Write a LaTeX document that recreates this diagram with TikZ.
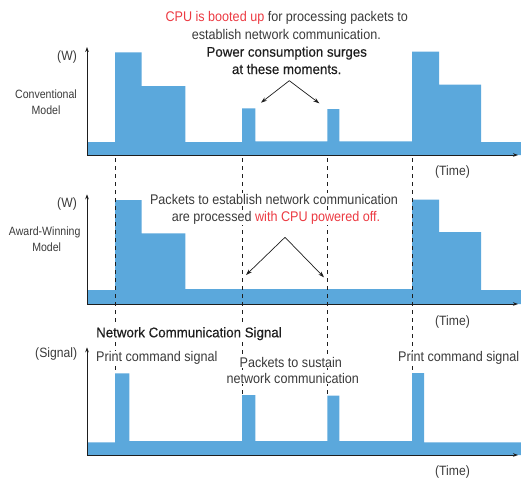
\documentclass[tikz,border=0pt]{standalone}
\usepackage{fontspec}
\setmainfont{Liberation Sans}[FakeStretch=0.9]
\newfontfamily\medfont{Liberation Sans}[FakeStretch=0.95,FakeBold=0.4]
\newfontfamily\smallfont{Liberation Sans}[FakeStretch=0.88]
\usetikzlibrary{arrows.meta}
\definecolor{barblue}{HTML}{5BA8DC}
\definecolor{txtgray}{HTML}{3A3A3A}
\definecolor{hired}{HTML}{EC3A42}
\definecolor{axisc}{HTML}{1E1E1E}
\begin{document}
\begin{tikzpicture}[x=1pt,y=-1pt,
  lbl/.style={font=\fontsize{14}{17}\selectfont, text=txtgray, inner sep=1pt, anchor=base},
  medlbl/.style={font=\medfont\fontsize{14}{17}\selectfont, text=axisc, inner sep=1pt, anchor=base},
  axlbl/.style={font=\fontsize{13.5}{16}\selectfont, text=txtgray, inner sep=0pt, anchor=base},
  smlbl/.style={font=\smallfont\fontsize{12}{14}\selectfont, text=txtgray, inner sep=0pt, anchor=base},
  cover/.style={fill=white},
  chartfill/.style={fill=barblue, draw=none},
  axisline/.style={draw=axisc, line width=0.8pt, -{Stealth[length=5pt,width=3.6pt]}},
  guide/.style={draw=axisc, line width=0.7pt, dash pattern=on 4pt off 4pt},
  pointer/.style={draw=axisc, line width=0.7pt, -{Stealth[length=6pt,width=4pt]}}
]
\useasboundingbox (0,0) rectangle (521,477);

% ---------- fills ----------
\path[chartfill] (87,155) -- (87,142) -- (115,142) -- (115,52.3) -- (141.7,52.3) -- (141.7,86)
  -- (185.3,86) -- (185.3,142) -- (242,142) -- (242,108.3) -- (255.3,108.3) -- (255.3,141.3)
  -- (327.3,141.3) -- (327.3,109) -- (339.3,109) -- (339.3,141.3) -- (412,141.3) -- (412,51.7)
  -- (439,51.7) -- (439,84.7) -- (481,84.7) -- (481,142) -- (521,142) -- (521,155) -- cycle;
\path[chartfill] (87,304) -- (87,290) -- (115,290) -- (115,200) -- (141.7,200) -- (141.7,233.3)
  -- (185.3,233.3) -- (185.3,289) -- (412,289) -- (412,199.5) -- (439,199.5) -- (439,232)
  -- (481,232) -- (481,290) -- (521,290) -- (521,304) -- cycle;
\path[chartfill] (87,455) -- (87,442.3) -- (115,442.3) -- (115,373.3) -- (129.3,373.3) -- (129.3,441)
  -- (242,441) -- (242,395) -- (255.3,395) -- (255.3,441) -- (327.3,441) -- (327.3,395.7)
  -- (339.3,395.7) -- (339.3,441) -- (412,441) -- (412,373) -- (424,373) -- (424,442.3)
  -- (521,442.3) -- (521,455) -- cycle;

% ---------- axes ----------
\coordinate (o1) at (87,155); \coordinate (y1) at (87,47); \coordinate (x1) at (518,155);
\coordinate (o2) at (87,304); \coordinate (y2) at (87,194.3); \coordinate (x2) at (518,304);
\coordinate (o3) at (87,455); \coordinate (y3) at (87,347.3); \coordinate (x3) at (518,455);
\draw[axisline] (o1) -- (y1);
\draw[axisline] (o1) -- (x1);
\draw[axisline] (o2) -- (y2);
\draw[axisline] (o2) -- (x2);
\draw[axisline] (o3) -- (y3);
\draw[axisline] (o3) -- (x3);

% ---------- dashed guides ----------
\coordinate (ga1) at (115,158);   \coordinate (ga2) at (115,373.3);
\coordinate (gb1) at (242,158);   \coordinate (gb2) at (242,395);
\coordinate (gc1) at (327.3,158); \coordinate (gc2) at (327.3,395.7);
\coordinate (gd1) at (412,158);   \coordinate (gd2) at (412,373);
\draw[guide] (ga1) -- (ga2);
\draw[guide] (gb1) -- (gb2);
\draw[guide] (gc1) -- (gc2);
\draw[guide] (gd1) -- (gd2);

% ---------- top chart texts ----------
\node[lbl] (t1a) at (286.7,21.7) {{\color{hired}CPU is booted up} for processing packets to};
\node[lbl] (t1b) at (286.3,39.3) {establish network communication.};
\node[medlbl] (t1c) at (286.7,56.7) {Power consumption surges};
\node[medlbl] (t1d) at (286.7,74) {at these moments.};
\node[axlbl, anchor=base east] (w1) at (77,60) {(W)};
\node[smlbl] (m1a) at (46,98.5) {Conventional};
\node[smlbl] (m1b) at (46,114.5) {Model};
\node[axlbl] (tm1) at (452.5,175) {(Time)};

% ---------- middle chart texts ----------
\node[lbl, cover] (t2a) at (274,204) {Packets to establish network communication};
\node[lbl, cover] (t2b) at (276,221) {are processed {\color{hired}with CPU powered off.}};
\node[axlbl, anchor=base east] (w2) at (77,207) {(W)};
\node[smlbl] (m2a) at (44.7,235) {Award-Winning};
\node[smlbl] (m2b) at (46.7,251) {Model};
\node[axlbl] (tm2) at (452.5,325) {(Time)};

% ---------- bottom chart texts ----------
\node[medlbl, cover, anchor=base west] (ncs) at (95,337.3) {Network Communication Signal};
\node[axlbl, anchor=base east] (sig) at (77.3,357) {(Signal)};
\node[lbl, cover, anchor=base west] (pc1) at (95,361.7) {Print command signal};
\node[lbl, cover, anchor=base east] (pc2) at (520.5,361.7) {Print command signal};
\node[lbl, cover] (ps1) at (290.8,367.3) {Packets to sustain};
\node[lbl, cover] (ps2) at (292.8,383.3) {network communication};
\node[axlbl] (tm3) at (452.5,475) {(Time)};

% ---------- pointers ----------
\coordinate (ap1) at (289.3,80.7);
\coordinate (p1l) at (261,102.7);
\coordinate (p1r) at (319.3,103.3);
\draw[pointer] (ap1) -- (p1l);
\draw[pointer] (ap1) -- (p1r);
\coordinate (ap2) at (285,237.3);
\coordinate (p2l) at (246,275);
\coordinate (p2r) at (324,277.3);
\draw[pointer] (ap2) -- (p2l);
\draw[pointer] (ap2) -- (p2r);
\end{tikzpicture}
\end{document}
